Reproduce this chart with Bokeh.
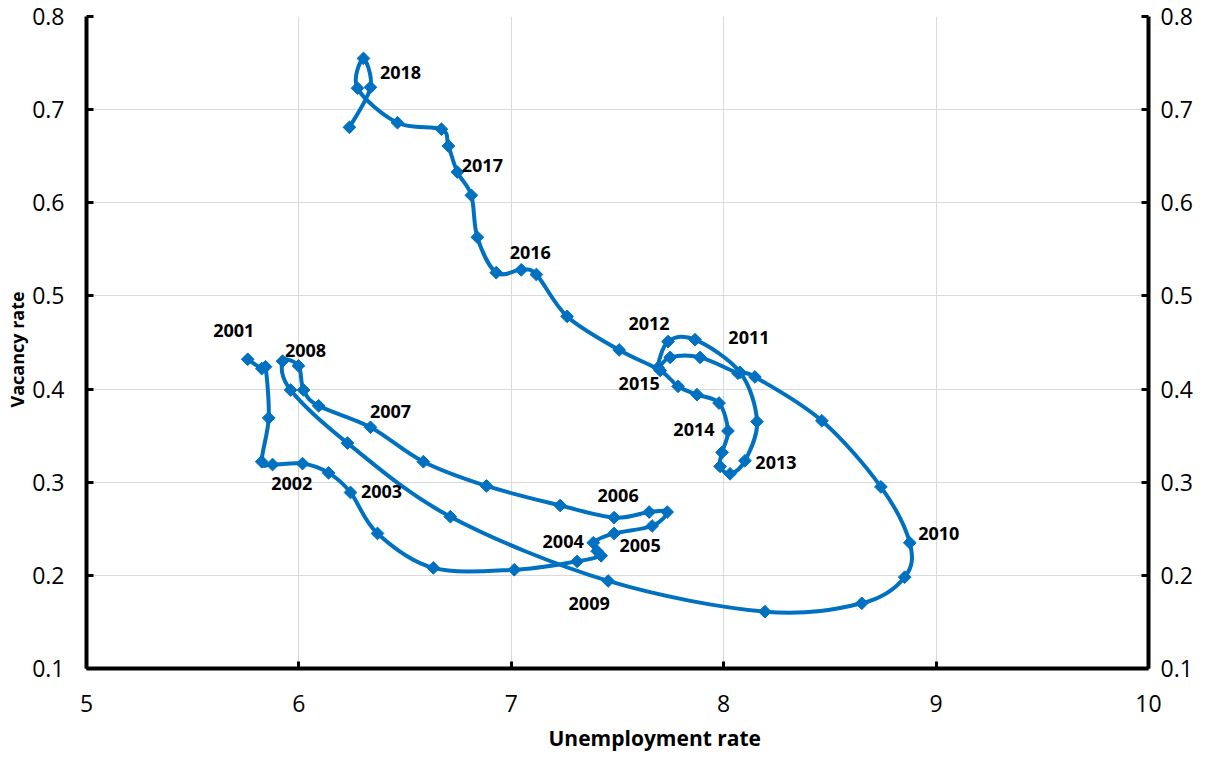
import numpy as np
from bokeh.plotting import figure
from bokeh.models import Range1d, LinearAxis, FixedTicker, PrintfTickFormatter, ColumnDataSource, Title
from bokeh.embed import file_html
from bokeh.resources import INLINE
from bokeh.core.properties import value

# Quarterly data, 2001 Q1 .. 2018 Q4
unemployment = [
    5.759, 5.825, 5.843, 5.858,   # 2001
    5.825, 5.876, 6.017, 6.140,   # 2002
    6.243, 6.370, 6.633, 7.014,   # 2003
    7.310, 7.423, 7.404, 7.386,   # 2004
    7.484, 7.663, 7.734, 7.649,   # 2005
    7.484, 7.230, 6.883, 6.586,   # 2006
    6.337, 6.093, 6.022, 5.998,   # 2007
    5.923, 5.961, 6.229, 6.713,   # 2008
    7.456, 8.194, 8.650, 8.852,   # 2009
    8.876, 8.740, 8.462, 8.147,   # 2010
    8.067, 7.889, 7.748, 7.691,   # 2011
    7.738, 7.865, 8.077, 8.157,   # 2012
    8.100, 8.030, 7.983, 7.992,   # 2013
    8.020, 7.978, 7.874, 7.785,   # 2014
    7.701, 7.508, 7.263, 7.118,   # 2015
    7.047, 6.929, 6.840, 6.812,   # 2016
    6.746, 6.704, 6.671, 6.464,   # 2017
    6.276, 6.304, 6.337, 6.238,   # 2018
]
vacancy = [
    0.432, 0.422, 0.424, 0.369,
    0.322, 0.319, 0.320, 0.310,
    0.289, 0.245, 0.208, 0.206,
    0.215, 0.221, 0.226, 0.235,
    0.245, 0.253, 0.268, 0.268,
    0.262, 0.275, 0.296, 0.322,
    0.359, 0.382, 0.399, 0.425,
    0.430, 0.399, 0.342, 0.263,
    0.194, 0.161, 0.170, 0.198,
    0.235, 0.295, 0.366, 0.413,
    0.417, 0.434, 0.434, 0.423,
    0.451, 0.453, 0.418, 0.365,
    0.323, 0.309, 0.317, 0.332,
    0.355, 0.385, 0.394, 0.403,
    0.420, 0.442, 0.478, 0.523,
    0.528, 0.525, 0.563, 0.608,
    0.633, 0.661, 0.679, 0.686,
    0.723, 0.755, 0.724, 0.681,
]
years = list(range(2001, 2019))
x_ticks = [5, 6, 7, 8, 9, 10]
y_ticks = [0.1, 0.2, 0.3, 0.4, 0.5, 0.6, 0.7, 0.8]
x_title = "Unemployment rate"
y_title = "Vacancy rate"

# label placement (screen pixel offsets from each year's first-quarter point)
label_dx = [-14, 30, 31, -14, 26, 4, 20, 23, -19, 29, 11, -19, 31, -34, -21, 9, 25, 43]
label_dy = [-29, 22, -1, -20, 12, -22, -16, -11, 23, -9, -36, -18, 2, -1, 13, -17, -7, -16]

BLUE = "#0070C0"
FONT = "Open Sans"

p = figure(width=1199, height=758, output_backend="svg", toolbar_location=None,
           x_range=Range1d(5, 10), y_range=Range1d(0.1, 0.8),
           min_border_left=86, min_border_right=51, min_border_top=16, min_border_bottom=88)
p.outline_line_color = None
p.background_fill_color = "white"
p.border_fill_color = "white"

# Smoothed line (cardinal spline as Bezier segments, same as spreadsheet smoothing)
ux = np.array(unemployment)
vy = np.array(vacancy)
n = len(ux)
idx = np.arange(n - 1)
i0 = np.maximum(idx - 1, 0)
i3 = np.minimum(idx + 2, n - 1)
seg = ColumnDataSource(dict(
    x0=ux[idx], y0=vy[idx], x1=ux[idx + 1], y1=vy[idx + 1],
    cx0=ux[idx] + (ux[idx + 1] - ux[i0]) / 6.0,
    cy0=vy[idx] + (vy[idx + 1] - vy[i0]) / 6.0,
    cx1=ux[idx + 1] - (ux[i3] - ux[idx]) / 6.0,
    cy1=vy[idx + 1] - (vy[i3] - vy[idx]) / 6.0,
))
p.bezier(x0="x0", y0="y0", x1="x1", y1="y1", cx0="cx0", cy0="cy0", cx1="cx1", cy1="cy1",
         source=seg, line_color=BLUE, line_width=4)
p.scatter(unemployment, vacancy, marker="square", angle=np.pi / 4, size=9,
          fill_color=BLUE, line_color=BLUE)

lab_idx = [4 * (y - years[0]) for y in years]
lab_src = ColumnDataSource(dict(
    x=[unemployment[i] for i in lab_idx], y=[vacancy[i] for i in lab_idx],
    t=[str(y) for y in years], dx=label_dx, dy=label_dy))
p.text(x="x", y="y", text="t", x_offset="dx", y_offset="dy", source=lab_src,
       text_font=value(FONT), text_font_style="bold", text_font_size="18px",
       text_align="center", text_baseline="middle", text_color="black")

# grid
for g, t in ((p.xgrid, x_ticks), (p.ygrid, y_ticks)):
    g.ticker = FixedTicker(ticks=t)
    g.grid_line_color = "#d9d9d9"
    g.grid_line_width = 1

def style_axis(ax, standoff):
    ax.axis_line_width = 4
    ax.axis_line_color = "black"
    ax.major_tick_in = 7
    ax.major_tick_out = 0
    ax.major_tick_line_width = 3
    ax.major_tick_line_color = "black"
    ax.minor_tick_line_color = None
    ax.major_label_text_font = FONT
    ax.major_label_text_font_size = "23px"
    ax.major_label_text_color = "black"
    ax.major_label_standoff = standoff

xa = p.xaxis[0]
xa.ticker = FixedTicker(ticks=x_ticks)
xa.formatter = PrintfTickFormatter(format="%d")
style_axis(xa, 26)

ya = p.yaxis[0]
ya.ticker = FixedTicker(ticks=y_ticks)
ya.formatter = PrintfTickFormatter(format="%.1f")
style_axis(ya, 22)

ra = LinearAxis(ticker=FixedTicker(ticks=y_ticks), formatter=PrintfTickFormatter(format="%.1f"))
style_axis(ra, 12)
p.add_layout(ra, "right")

# axis titles (slightly off-centre, as in the original)
p.add_layout(Title(text=x_title, align="left", offset=462, standoff=14,
                   text_font=FONT, text_font_style="bold", text_font_size="21px",
                   text_color="black"), "below")
p.add_layout(Title(text=y_title, align="left", offset=261, standoff=2,
                   text_font=FONT, text_font_style="bold", text_font_size="18px",
                   text_color="black"), "left")

open("out.html", "w").write(file_html(p, INLINE))
